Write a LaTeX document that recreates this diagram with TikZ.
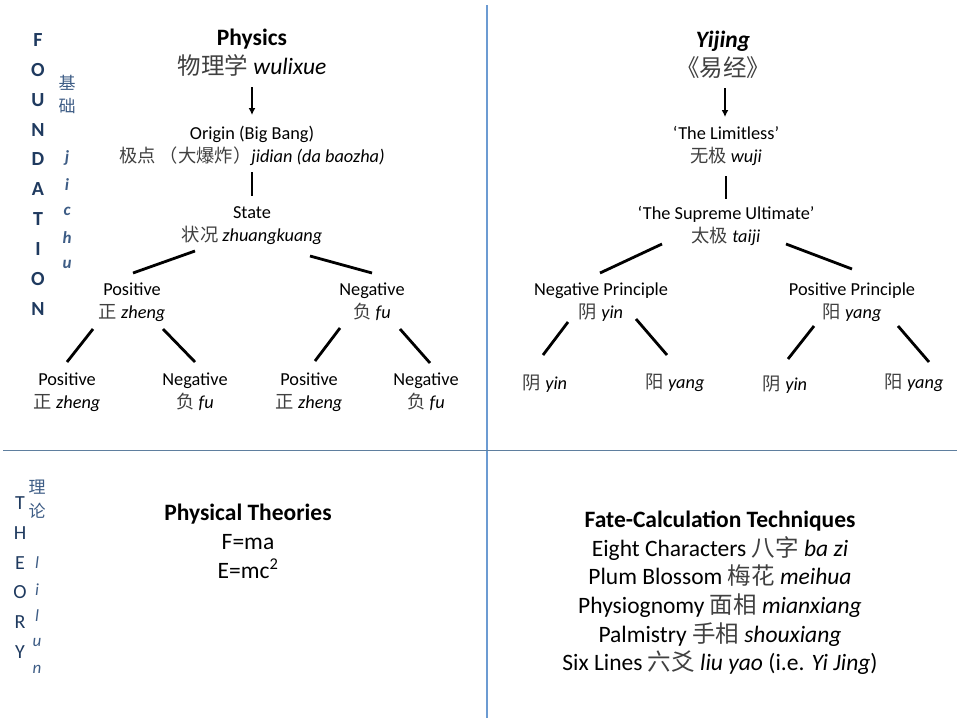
\documentclass[tikz,border=0pt]{standalone}
\usepackage{fontspec}
\setmainfont{Carlito}
\newfontfamily\cjk{Noto Sans CJK SC}
\usepackage{xcolor}
\usepackage{tikz}
\usetikzlibrary{arrows.meta,calc}
\definecolor{sidenavy}{HTML}{1F3A5F}
\definecolor{sideblue}{HTML}{3D5C85}
\definecolor{ruleblue}{HTML}{6C9BD2}
\definecolor{rulegray}{HTML}{5F7F9F}
\definecolor{cjkgray}{HTML}{404040}
\newcommand{\zh}[1]{{\cjk\color{cjkgray}#1}}
\newcommand{\topstrut}{\rule{0pt}{0.95\baselineskip}}
\newcommand{\botstrut}{\rule[-0.25\baselineskip]{0pt}{0pt}}
\tikzset{
  textnode/.style={align=center,inner sep=0pt,execute at begin node=\topstrut,execute at end node=\botstrut},
  titlenode/.style={textnode,font=\fontsize{23.5}{29}\selectfont},
  treenode/.style={textnode,font=\fontsize{18.3}{23}\selectfont},
  listnode/.style={textnode,font=\fontsize{23.5}{28.7}\selectfont},
  branch/.style={line width=2.8pt,draw=black},
  downarrow/.style={-{Latex[length=2.4mm,width=2.4mm]},line width=1.8pt},
  sideletter/.style={inner sep=0pt,text=sidenavy,font=\fontsize{20}{20}\selectfont\bfseries},
  sidepinyin/.style={inner sep=0pt,text=sideblue,font=\fontsize{17}{17}\selectfont\bfseries\itshape},
  sidezh/.style={inner sep=0pt,text=sideblue,font=\fontsize{17}{17}\selectfont\cjk},
}
\begin{document}
\begin{tikzpicture}[x=1pt,y=-1pt]
  \useasboundingbox (0,0) rectangle (957,718);
  % quadrant rules
  \draw[ruleblue,line width=1.3pt] (487,5) -- (487,718);
  \draw[rulegray,line width=1.3pt] (3,450.5) -- (957,450.5);

  % side labels
  \foreach \c [count=\i] in {F,O,U,N,D,A,T,I,O,N}
    \node[sideletter] (fd\i) at (38,{10+29.9*\i}) {\c};
  \node[sidezh] (jc1) at (67,83) {基};
  \node[sidezh] (jc2) at (67,106) {础};
  \foreach \c [count=\i] in {j,i,c,h,u}
    \node[sidepinyin] (jp\i) at (67,{131.5+26.5*\i}) {\c};
  \foreach \c [count=\i] in {T,H,E,O,R,Y}
    \node[sideletter,font=\fontsize{20}{20}\selectfont] (th\i) at (20,{473.5+29.7*\i}) {\c};
  \node[sidezh] (ll1) at (37,487) {理};
  \node[sidezh] (ll2) at (37,511) {论};
  \foreach \c [count=\i] in {l,i,l,u,n}
    \node[sidepinyin,font=\fontsize{17}{17}\selectfont\itshape] (lp\i) at (37,{536.5+26.5*\i}) {\c};

  % physics tree
  \node[titlenode] (phys) at (252,55) {\textbf{Physics}\\\zh{物理学} \textit{wulixue}};
  \node[treenode] (orig) at (252,147.5) {Origin (Big Bang)\\\zh{极点 （大爆炸）}\textit{jidian (da baozha)}};
  \node[treenode] (st) at (252,227) {State\\\zh{状况} \textit{zhuangkuang}};
  \node[treenode] (pp) at (132,303.5) {Positive\\\zh{正} \textit{zheng}};
  \node[treenode] (pn) at (372,303.5) {Negative\\\zh{负} \textit{fu}};
  \node[treenode] (ppp) at (67,393.5) {Positive\\\zh{正} \textit{zheng}};
  \node[treenode] (ppn) at (195,394) {Negative\\\zh{负} \textit{fu}};
  \node[treenode] (pnp) at (309,393.5) {Positive\\\zh{正} \textit{zheng}};
  \node[treenode] (pnn) at (426,393.5) {Negative\\\zh{负} \textit{fu}};
  \draw[downarrow] ($(phys)+(0,32)$) -- ($(orig)+(0,-32.5)$);
  \draw[branch] ($(orig)+(0,24.5)$) -- ($(st)+(0,-31)$);
  \draw[branch] ($(st)+(-57,24)$) -- ($(pp)+(1,-30.5)$);
  \draw[branch] ($(st)+(58,29)$) -- ($(pn)+(0,-30.5)$);
  \draw[branch] ($(pp)+(-39,25.5)$) -- ($(ppp)+(0,-31.5)$);
  \draw[branch] ($(pp)+(31,25.5)$) -- ($(ppn)+(0,-32)$);
  \draw[branch] ($(pn)+(-32,24.5)$) -- ($(pnp)+(6,-32.5)$);
  \draw[branch] ($(pn)+(28,25.5)$) -- ($(pnn)+(4,-30.5)$);

  % yijing tree
  \node[titlenode] (yj) at (723,57) {\textbf{\textit{Yijing}}\\\zh{《易经》}};
  \node[treenode] (wj) at (726,147) {‘The Limitless’\\\zh{无极} \textit{wuji}};
  \node[treenode] (tj) at (726,227.5) {‘The Supreme Ultimate’\\\zh{太极} \textit{taiji}};
  \node[treenode] (yn) at (601,303.5) {Negative Principle\\\zh{阴} \textit{yin}};
  \node[treenode] (yg) at (852,303.5) {Positive Principle\\\zh{阳} \textit{yang}};
  \node[treenode] (yn1) at (545,381) {\zh{阴} \textit{yin}};
  \node[treenode] (yn2) at (675,380) {\zh{阳} \textit{yang}};
  \node[treenode] (yg1) at (785,382) {\zh{阴} \textit{yin}};
  \node[treenode] (yg2) at (914,380) {\zh{阳} \textit{yang}};
  \draw[downarrow] ($(yj)+(2,31)$) -- ($(wj)+(-1,-30)$);
  \draw[branch] ($(wj)+(0,29)$) -- ($(tj)+(0,-28.5)$);
  \draw[branch] ($(tj)+(-64,16.5)$) -- ($(yn)+(-1,-30.5)$);
  \draw[branch] ($(tj)+(60,16.5)$) -- ($(yg)+(0,-34.5)$);
  \draw[branch] ($(yn)+(-33,18.5)$) -- ($(yn1)+(-2,-26)$);
  \draw[branch] ($(yn)+(35,15.5)$) -- ($(yn2)+(-8,-25)$);
  \draw[branch] ($(yg)+(-38,22.5)$) -- ($(yg1)+(3,-23)$);
  \draw[branch] ($(yg)+(46,22.5)$) -- ($(yg2)+(15,-18)$);

  % theory lists
  \node[listnode] (pt) at (248,545) {\textbf{Physical Theories}\\F=ma\\E=mc\textsuperscript{2}};
  \node[listnode] (fc) at (720,594.5) {\textbf{Fate-Calculation Techniques}\\
    Eight Characters \zh{八字} \textit{ba zi}\\
    Plum Blossom \zh{梅花} \textit{meihua}\\
    Physiognomy \zh{面相} \textit{mianxiang}\\
    Palmistry \zh{手相} \textit{shouxiang}\\
    Six Lines \zh{六爻} \textit{liu yao} (i.e. \textit{Yi Jing})};
\end{tikzpicture}
\end{document}
